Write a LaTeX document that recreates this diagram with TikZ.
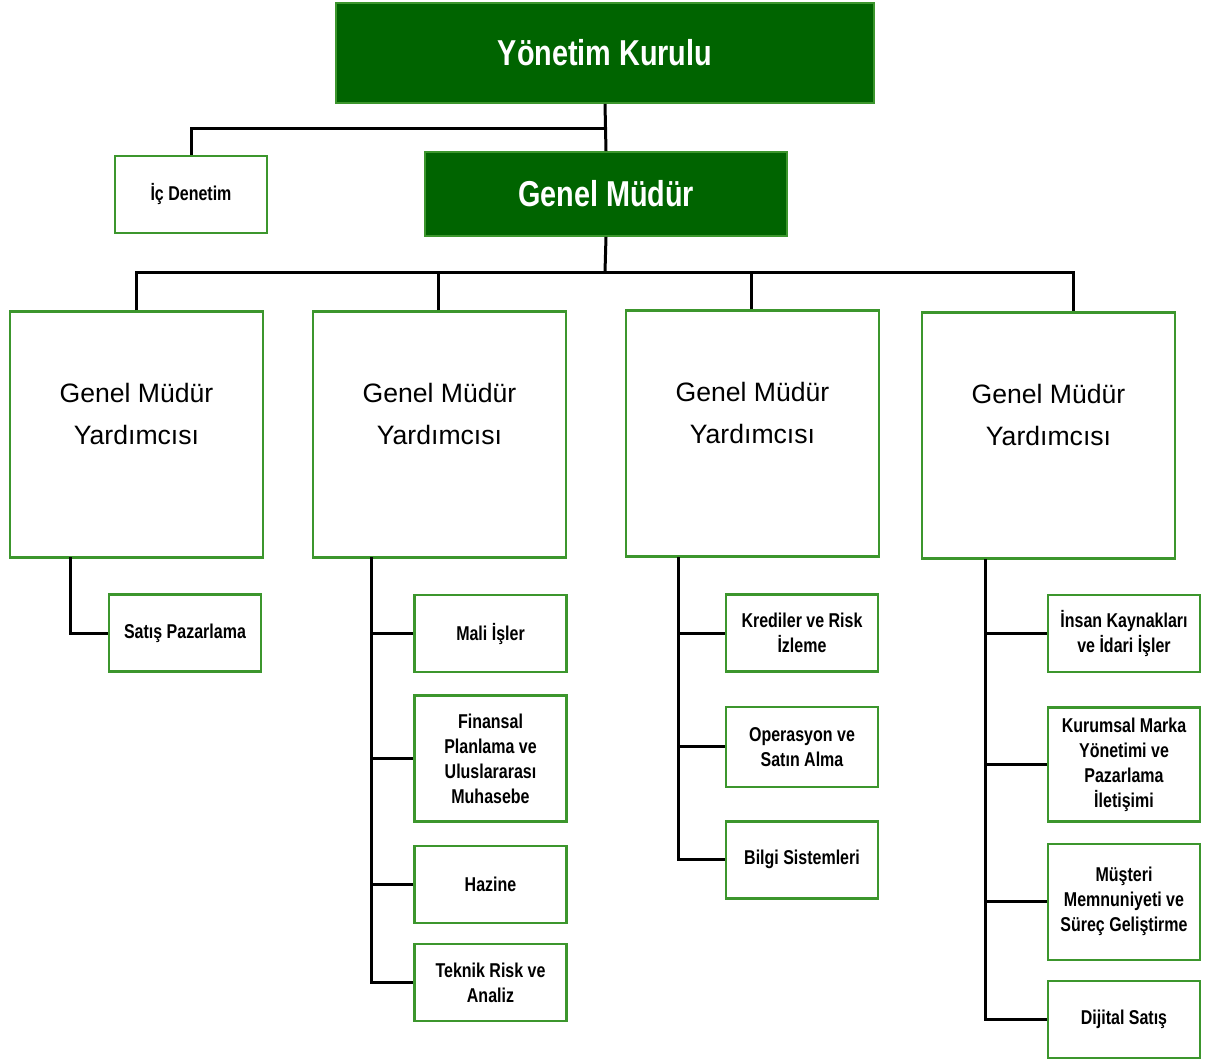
\documentclass[tikz,border=0pt]{standalone}
\usepackage{fontspec}
\setmainfont{Liberation Sans}
\newfontfamily\narrowfont[FakeStretch=0.8]{Liberation Sans}
\usetikzlibrary{positioning}

\definecolor{boardgreen}{RGB}{0,100,0}
\definecolor{framegreen}{RGB}{60,150,45}

\begin{document}
\begin{tikzpicture}[
  x=0.5pt, y=-0.5pt,
  head/.style={rectangle, draw=framegreen, line width=0.8pt, fill=boardgreen,
               text=white, font=\narrowfont\bfseries\fontsize{18}{20}\selectfont},
  deputy/.style={rectangle, draw=framegreen, line width=1.2pt, fill=white,
                 minimum width=126.5pt, minimum height=123pt, align=center,
                 text depth=21pt, font=\fontsize{13.3}{21}\selectfont},
  unit/.style={rectangle, draw=framegreen, line width=1.2pt, fill=white,
               minimum width=76pt, minimum height=38.5pt, align=center, inner sep=2pt,
               font=\narrowfont\bfseries\fontsize{10}{12.5}\selectfont},
  link/.style={line width=1.5pt, black}
]
\useasboundingbox (0,0) rectangle (1205,1062);

% ust kademe
\node[head, minimum width=269pt, minimum height=50pt] (board) at (605,53) {Yönetim Kurulu};
\node[head, minimum width=181pt, minimum height=42pt] (ceo) at (606,194) {Genel Müdür};
\node[unit, minimum width=76pt] (audit) at (191,194.5) {İç Denetim};

% genel mudur yardimcilari
\node[deputy] (gmy1) at (136.5,434.5) {Genel Müdür\\Yardımcısı};
\node[deputy] (gmy2) at (439.5,434.5) {Genel Müdür\\Yardımcısı};
\node[deputy] (gmy3) at (752.5,433.5) {Genel Müdür\\Yardımcısı};
\node[deputy] (gmy4) at (1048.5,435.5) {Genel Müdür\\Yardımcısı};

% birinci kol
\node[unit] (sales) at (185,633) {Satış Pazarlama};

% ikinci kol
\node[unit] (finance) at (490.5,633.5) {Mali İşler};
\node[unit, minimum height=63pt, below=10.5pt of finance] (planning) {Finansal\\Planlama ve\\Uluslararası\\Muhasebe};
\node[unit, below=11pt of planning] (treasury) {Hazine};
\node[unit, below=9.5pt of treasury] (techrisk) {Teknik Risk ve\\Analiz};

% ucuncu kol
\node[unit] (credit) at (802,633) {Krediler ve Risk\\İzleme};
\node[unit, minimum height=40pt, below=16.5pt of credit] (operations) {Operasyon ve\\Satın Alma};
\node[unit, below=16pt of operations] (itsys) {Bilgi Sistemleri};

% dorduncu kol
\node[unit] (hr) at (1124,633.5) {İnsan Kaynakları\\ve İdari İşler};
\node[unit, minimum height=57pt, below=16.5pt of hr] (brand) {Kurumsal Marka\\Yönetimi ve\\Pazarlama\\İletişimi};
\node[unit, minimum height=58pt, below=10pt of brand] (customer) {Müşteri\\Memnuniyeti ve\\Süreç Geliştirme};
\node[unit, below=9.5pt of customer] (digital) {Dijital Satış};

% baglantilar
\coordinate (j1) at (605,128);
\coordinate (j2) at (605,272);
\draw[link] (board.south) -- (ceo.north);
\draw[link] (j1) -| (audit.north);
\draw[link] (ceo.south) -- (j2);
\draw[link] (gmy1.north) |- (j2) -- ([xshift=12.5pt]gmy4.north |- j2) -- ([xshift=12.5pt]gmy4.north);
\draw[link] (gmy2.north -| 438,0) -- (j2 -| 438,0);
\draw[link] (gmy3.north -| 751,0) -- (j2 -| 751,0);

\coordinate (t1) at (70,557);
\coordinate (t2) at (371,557);
\coordinate (t3) at (678,557);
\coordinate (t4) at (985,559);
\draw[link] (t1) |- (sales.west);
\draw[link] (t2) |- (techrisk.west);
\draw[link] (t2 |- finance.west) -- (finance.west);
\draw[link] (t2 |- planning.west) -- (planning.west);
\draw[link] (t2 |- treasury.west) -- (treasury.west);
\draw[link] (t3) |- (itsys.west);
\draw[link] (t3 |- credit.west) -- (credit.west);
\draw[link] (t3 |- operations.west) -- (operations.west);
\draw[link] (t4) |- (digital.west);
\draw[link] (t4 |- hr.west) -- (hr.west);
\draw[link] (t4 |- brand.west) -- (brand.west);
\draw[link] (t4 |- customer.west) -- (customer.west);
\end{tikzpicture}
\end{document}
